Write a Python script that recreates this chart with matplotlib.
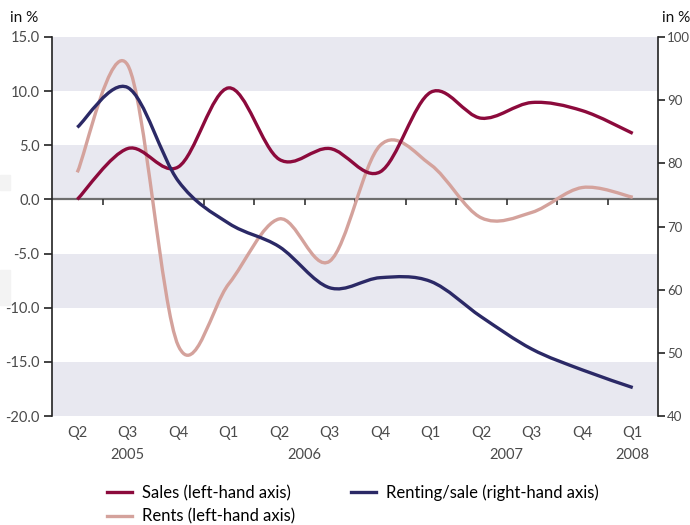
import numpy as np
import matplotlib.pyplot as plt
from matplotlib.path import Path
from matplotlib.patches import PathPatch, Rectangle
from matplotlib.lines import Line2D

plt.rcParams['font.family'] = ['Lato', 'DejaVu Sans']

quarters = ['Q2', 'Q3', 'Q4', 'Q1', 'Q2', 'Q3', 'Q4', 'Q1', 'Q2', 'Q3', 'Q4', 'Q1']
years = ['2005', '2006', '2007', '2008']
year_pos = [1, 4.5, 8.5, 11]

sales = [0.0, 4.7, 3.0, 10.3, 3.7, 4.7, 2.55, 9.9, 7.5, 8.95, 8.2, 6.1]
rents = [2.5, 12.4, -13.5, -7.8, -1.8, -5.7, 5.0, 3.2, -1.7, -1.2, 1.1, 0.2]
renting_sale = [85.7, 92.0, 77.2, 70.5, 66.8, 60.3, 61.9, 61.3, 55.7, 50.6, 47.3, 44.5]

c_sales = '#8c0a3c'
c_rents = '#d4a29c'
c_rs = '#2b2966'
band = '#e8e8f0'
axis_grey = '#6e6e6e'
label_grey = '#4a4a4a'


def smooth_path(y):
    # cubic bezier segments through every point (Catmull-Rom tangents)
    x = np.arange(len(y), dtype=float)
    y = np.asarray(y, dtype=float)
    verts = [(x[0], y[0])]
    codes = [Path.MOVETO]
    n = len(y)
    for i in range(n - 1):
        p0 = max(i - 1, 0)
        p3 = min(i + 2, n - 1)
        c1 = (x[i] + (x[i + 1] - x[p0]) / 6, y[i] + (y[i + 1] - y[p0]) / 6)
        c2 = (x[i + 1] - (x[p3] - x[i]) / 6, y[i + 1] - (y[p3] - y[i]) / 6)
        verts += [c1, c2, (x[i + 1], y[i + 1])]
        codes += [Path.CURVE4] * 3
    return Path(verts, codes)


fig = plt.figure(figsize=(6.9, 5.25), dpi=100)
W, H = 690, 525
ax = fig.add_axes([52 / W, 1 - 416 / H, 606 / W, 379 / H])
ax2 = ax.twinx()

# faint blocks on the left margin
fig.patches.append(Rectangle((0, 1 - 190 / H), 10 / W, 15 / H, transform=fig.transFigure,
                             color='#f3f3f3', zorder=0))
fig.patches.append(Rectangle((0, 1 - 305 / H), 10 / W, 35 / H, transform=fig.transFigure,
                             color='#f3f3f3', zorder=0))

ax.set_xlim(-0.5, 11.5)
ax.set_ylim(-20, 15)
ax2.set_ylim(40, 100)

for lo in [10, 0, -10, -20]:
    ax.axhspan(lo, lo + 5, color=band, lw=0, zorder=0)

# zero line with quarter separators
ax.axhline(0, color=axis_grey, lw=1.6, zorder=1)
for xb in np.arange(0.5, 11.5, 1.0):
    ax.plot([xb, xb], [0, -0.5], color='#333333', lw=1.2, zorder=1, solid_capstyle='butt')

ax.add_patch(PathPatch(smooth_path(rents), fill=False, edgecolor=c_rents, lw=2.4, zorder=3,
                       capstyle='butt'))
ax.add_patch(PathPatch(smooth_path(sales), fill=False, edgecolor=c_sales, lw=2.4, zorder=4,
                       capstyle='butt'))
ax2.add_patch(PathPatch(smooth_path(renting_sale), fill=False, edgecolor=c_rs, lw=2.4, zorder=3,
                        capstyle='butt'))

for a in (ax, ax2):
    for s in ['top', 'bottom']:
        a.spines[s].set_visible(False)
    a.set_xticks([])
ax.spines['right'].set_visible(False)
ax2.spines['left'].set_visible(False)
ax.spines['left'].set_color('#222222')
ax2.spines['right'].set_color('#222222')
ax.spines['left'].set_linewidth(1.2)
ax2.spines['right'].set_linewidth(1.2)

ax.set_yticks(np.arange(-20, 16, 5))
ax.set_yticklabels([f'{v:.1f}' for v in np.arange(-20, 16, 5)])
ax2.set_yticks(np.arange(40, 101, 10))
ax.tick_params(axis='y', length=6, width=1.2, color='#222222', labelcolor=label_grey,
               labelsize=10.5, pad=3)
ax2.tick_params(axis='y', length=5, width=1.2, color='#222222', labelcolor=label_grey,
                labelsize=9.5, pad=1.5)

fig.text(10 / W, 1 - 18 / H, 'in %', fontsize=11, color='#111111', va='center')
fig.text(662 / W, 1 - 18 / H, 'in %', fontsize=11, color='#111111', va='center')

for i, q in enumerate(quarters):
    ax.text(i, -0.046, q, transform=ax.get_xaxis_transform(), ha='center', va='center',
            fontsize=10.5, color=label_grey)
for yp, yr in zip(year_pos, years):
    ax.text(yp, -0.104, yr, transform=ax.get_xaxis_transform(), ha='center', va='center',
            fontsize=10.5, color=label_grey)

handles = [Line2D([], [], color=c_sales, lw=2.4),
           Line2D([], [], color=c_rents, lw=2.4),
           Line2D([], [], color=c_rs, lw=2.4)]
labels = ['Sales (left-hand axis)', 'Rents (left-hand axis)', 'Renting/sale (right-hand axis)']
fig.legend(handles, labels, ncol=2, frameon=False, loc='upper left',
           bbox_to_anchor=(100 / W, 1 - 478 / H), fontsize=12, handlelength=1.5,
           handletextpad=0.6, columnspacing=3.4, labelspacing=0.42, borderaxespad=0)

fig.savefig('out.png', dpi=100)
